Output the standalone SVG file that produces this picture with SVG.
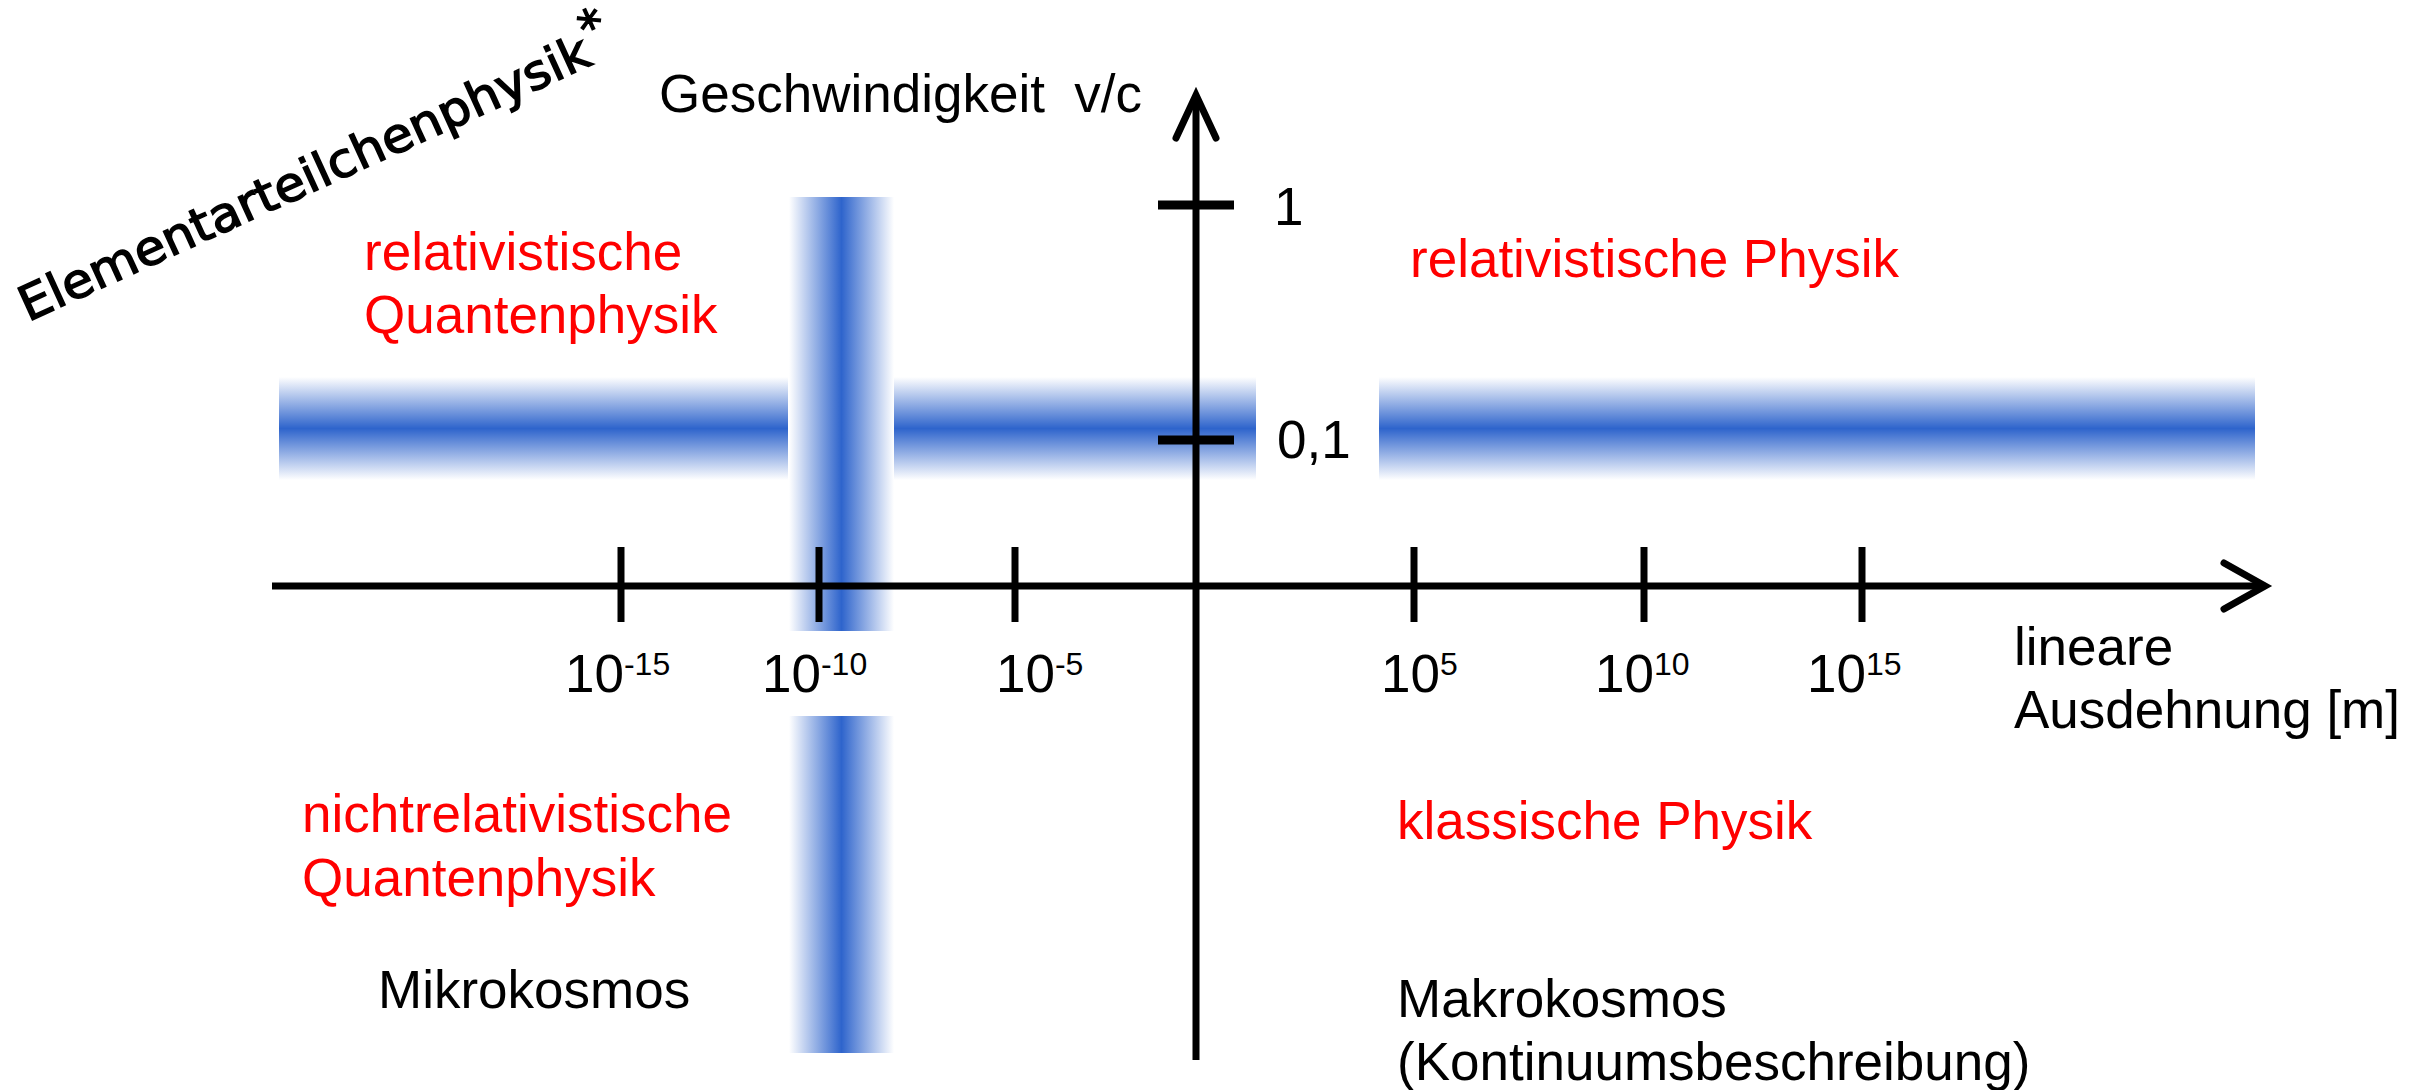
<svg xmlns="http://www.w3.org/2000/svg" width="2433" height="1090" viewBox="0 0 2433 1090">
  <style>
    .t { font-family: "Liberation Sans", Arial, sans-serif; font-size: 53px; fill: #000; }
    .r { fill: #ff0000; }
    .sup { font-size: 32px; }
    .ax { stroke: #000; stroke-width: 7; fill: none; }
    .tick { stroke: #000; stroke-width: 7; }
    .ytick { stroke: #000; stroke-width: 9; }
    .hand { font-family: "DejaVu Sans", sans-serif; font-size: 48px; fill: #000; stroke: #000; stroke-width: 1.5; }
  </style>
  <defs>
    <linearGradient id="gh" x1="0" y1="0" x2="0" y2="1">
      <stop offset="0" stop-color="#ffffff"/>
      <stop offset="0.5" stop-color="#2e64cc"/>
      <stop offset="1" stop-color="#ffffff"/>
    </linearGradient>
    <linearGradient id="gv" x1="0" y1="0" x2="1" y2="0">
      <stop offset="0" stop-color="#ffffff"/>
      <stop offset="0.5" stop-color="#2e64cc"/>
      <stop offset="1" stop-color="#ffffff"/>
    </linearGradient>
  </defs>
  <rect width="2433" height="1090" fill="#ffffff"/>

  <g id="bands">
    <rect x="279" y="377" width="509" height="103" fill="url(#gh)"/>
    <rect x="894" y="377" width="362" height="103" fill="url(#gh)"/>
    <rect x="1379" y="377" width="876" height="103" fill="url(#gh)"/>
    <rect x="789" y="197" width="105" height="434" fill="url(#gv)"/>
    <rect x="789" y="716" width="105" height="337" fill="url(#gv)"/>
  </g>

  <g id="connectors">
    <line class="ax" x1="272" y1="586" x2="2262" y2="586"/>
    <polyline class="ax" points="2224,563 2265,586 2224,609" stroke-width="8" stroke-linecap="round"/>
    <line class="ax" x1="1196" y1="98" x2="1196" y2="1060"/>
    <polyline class="ax" points="1176,138 1196,95 1216,138" stroke-width="8" stroke-linecap="round"/>
    <line class="ytick" x1="1158" y1="205" x2="1234" y2="205"/>
    <line class="ytick" x1="1158" y1="440" x2="1234" y2="440"/>
    <line class="tick" x1="621" y1="547" x2="621" y2="622"/>
    <line class="tick" x1="819" y1="547" x2="819" y2="622"/>
    <line class="tick" x1="1015" y1="547" x2="1015" y2="622"/>
    <line class="tick" x1="1414" y1="547" x2="1414" y2="622"/>
    <line class="tick" x1="1644" y1="547" x2="1644" y2="622"/>
    <line class="tick" x1="1862" y1="547" x2="1862" y2="622"/>
  </g>

  <g id="axis-y-label"><text class="t" x="659" y="112" xml:space="preserve">Geschwindigkeit  v/c</text></g>
  <g id="tick-1"><text class="t" x="1274" y="225">1</text></g>
  <g id="tick-01"><text class="t" x="1277" y="458">0,1</text></g>

  <g id="xlabels">
    <text class="t" x="565" y="692">10<tspan class="sup" dy="-17">-15</tspan></text>
    <text class="t" x="762" y="692">10<tspan class="sup" dy="-17">-10</tspan></text>
    <text class="t" x="996" y="692">10<tspan class="sup" dy="-17">-5</tspan></text>
    <text class="t" x="1381" y="692">10<tspan class="sup" dy="-17">5</tspan></text>
    <text class="t" x="1595" y="692">10<tspan class="sup" dy="-17">10</tspan></text>
    <text class="t" x="1807" y="692">10<tspan class="sup" dy="-17">15</tspan></text>
  </g>

  <g id="axis-x-label">
    <text class="t" x="2014" y="665">lineare</text>
    <text class="t" x="2014" y="728">Ausdehnung [m]</text>
  </g>

  <g id="rel-quant">
    <text class="t r" x="364" y="270">relativistische</text>
    <text class="t r" x="364" y="333">Quantenphysik</text>
  </g>
  <g id="rel-phys"><text class="t r" x="1410" y="277">relativistische Physik</text></g>
  <g id="nonrel-quant">
    <text class="t r" x="302" y="832">nichtrelativistische</text>
    <text class="t r" x="302" y="896">Quantenphysik</text>
  </g>
  <g id="klass"><text class="t r" x="1397" y="839">klassische Physik</text></g>
  <g id="mikro"><text class="t" x="378" y="1008">Mikrokosmos</text></g>
  <g id="makro">
    <text class="t" x="1397" y="1017">Makrokosmos</text>
    <text class="t" x="1397" y="1080">(Kontinuumsbeschreibung)</text>
  </g>

  <g id="elementarteilchen" transform="translate(28,322) rotate(-24.5)">
    <text class="hand" x="0" y="0" textLength="622" lengthAdjust="spacingAndGlyphs">Elementarteilchenphysik</text>
    <text class="hand" x="624" y="-18" font-size="30">*</text>
  </g>
</svg>
